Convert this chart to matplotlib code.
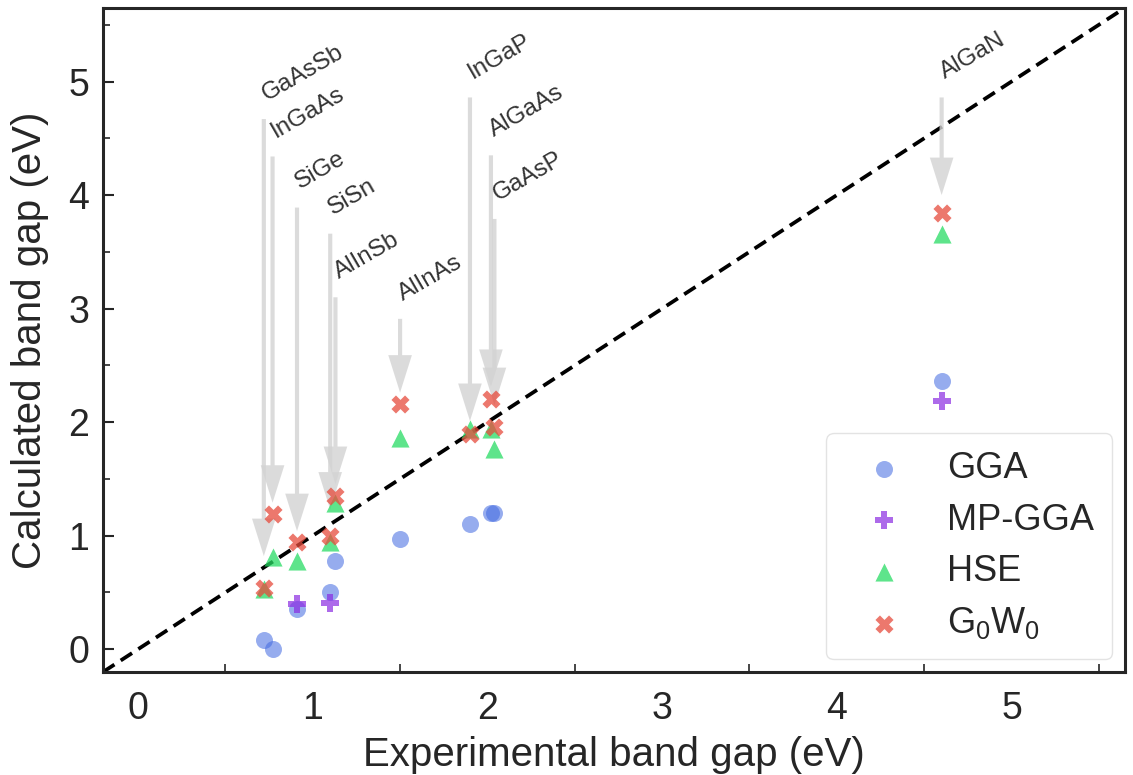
import numpy as np
import matplotlib
matplotlib.use("Agg")
import matplotlib.pyplot as plt
from matplotlib.ticker import FixedLocator, MultipleLocator

plt.rcParams["font.family"] = ["Liberation Sans", "DejaVu Sans"]
plt.rcParams["mathtext.fontset"] = "custom"
plt.rcParams["mathtext.rm"] = "Liberation Sans"
plt.rcParams["text.color"] = "#262626"
plt.rcParams["axes.labelcolor"] = "#262626"
plt.rcParams["xtick.color"] = "#262626"
plt.rcParams["ytick.color"] = "#262626"

# alloys and experimental gaps (eV)
materials = ["GaAsSb", "InGaAs", "SiGe", "SiSn", "AlInSb", "AlInAs",
             "InGaP", "AlGaAs", "GaAsP", "AlGaN"]
exp_gap = [0.72, 0.77, 0.91, 1.10, 1.13, 1.50, 1.90, 2.02, 2.04, 4.60]

# calculated gaps
gga = [0.08, 0.00, 0.35, 0.50, 0.78, 0.97, 1.10, 1.20, 1.20, 2.36]
mp_gga = [np.nan, np.nan, 0.40, 0.41, np.nan, np.nan, np.nan, np.nan, np.nan, 2.19]
hse = [0.53, 0.81, 0.78, 0.94, 1.29, 1.86, 1.94, 1.94, 1.76, 3.66]
g0w0 = [0.54, 1.19, 0.945, 1.00, 1.35, 2.16, 1.90, 2.20, 1.96, 3.84]

# label arrows: tail and tip heights
arrow_top = [4.67, 4.34, 3.89, 3.66, 3.10, 2.91, 4.86, 4.35, 3.79, 4.86]
arrow_tip = [0.82, 1.29, 1.04, 1.23, 1.455, 2.26, 2.01, 2.31, 2.15, 4.00]

lims = (-0.2, 5.65)

fig = plt.figure(figsize=(11.33, 7.75), dpi=100)
ax = fig.add_axes([0.091, 0.133, 0.902, 0.857])

ax.plot(lims, lims, ls=(0, (3.6, 2.0)), color="black", lw=2.7, zorder=1)

for name, x, top, tip in zip(materials, exp_gap, arrow_top, arrow_tip):
    ax.annotate("", xy=(x, tip), xytext=(x, top),
                arrowprops=dict(width=3, headwidth=17, headlength=27,
                                facecolor="#d3d3d3", edgecolor="none",
                                alpha=0.8, shrink=0),
                zorder=3)
    ax.annotate(name, xy=(x, top), xytext=(4, 10), textcoords="offset points",
                rotation=30, rotation_mode="anchor", ha="left", va="bottom",
                fontsize=17.5, color="#333333")

ax.scatter(exp_gap, gga, s=150, marker="o", color="royalblue", alpha=0.55,
           linewidths=0, label="GGA", zorder=4)
ax.scatter(exp_gap, mp_gga, s=170, marker="P", color="blueviolet", alpha=0.7,
           linewidths=0, label="MP-GGA", zorder=4)
ax.scatter(exp_gap, hse, s=170, marker="^", color="#28dc64", alpha=0.75,
           linewidths=0, label="HSE", zorder=4)
ax.scatter(exp_gap, g0w0, s=170, marker="X", color="#e64b3c", alpha=0.75,
           linewidths=0, label=r"G$_0$W$_0$", zorder=5)

ax.set_xlim(lims)
ax.set_ylim(lims)

ax.xaxis.set_major_locator(MultipleLocator(1))
ax.xaxis.set_minor_locator(FixedLocator([0.5, 1.5, 2.5, 3.5, 4.5, 5.5]))
ax.yaxis.set_major_locator(MultipleLocator(1))
ax.yaxis.set_minor_locator(FixedLocator([0.5, 1.5, 2.5, 3.5, 4.5, 5.5]))
ax.tick_params(axis="x", which="major", length=0, pad=14, labelsize=27)
ax.tick_params(axis="x", which="minor", direction="in", length=6, width=1.2)
ax.tick_params(axis="y", which="major", direction="in", length=8, width=1.5,
               pad=10, labelsize=27)
ax.tick_params(axis="y", which="minor", direction="in", length=5, width=1.2)

for sp in ax.spines.values():
    sp.set_linewidth(2.2)
    sp.set_color("#262626")

ax.set_xlabel("Experimental band gap (eV)", fontsize=29, labelpad=6)
ax.set_ylabel("Calculated band gap (eV)", fontsize=29, labelpad=14)

leg = ax.legend(loc="lower right", fontsize=26, frameon=True, fancybox=True,
                borderaxespad=0.35, handletextpad=0.65, labelspacing=0.45,
                borderpad=0.5, handlelength=2.2)
leg.get_frame().set_edgecolor("#dddddd")
leg.get_frame().set_linewidth(1.0)

fig.savefig("out.png", dpi=100)
